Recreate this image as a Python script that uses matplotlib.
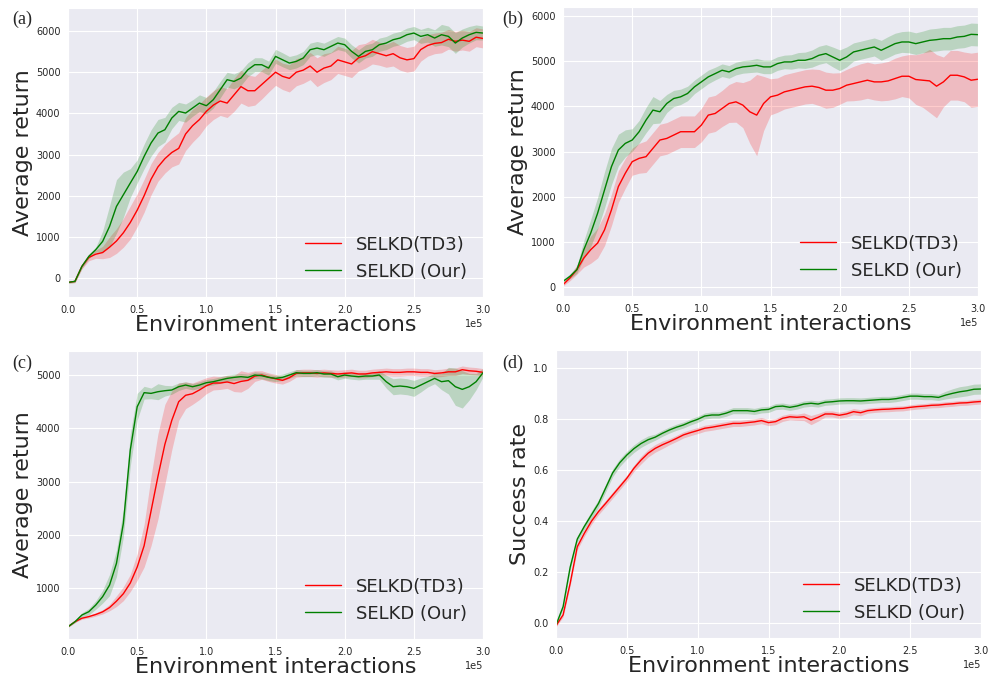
import numpy as np
import matplotlib.pyplot as plt
import seaborn as sns

# x positions: every 5000 interactions from 0 to 3e5
steps = np.arange(0, 300001, 5000)

# (a) average return
a_td3 = [-105, -80, 283, 500, 580, 620, 750, 900, 1100, 1350, 1650, 2000, 2400, 2700, 2900, 3050,
         3150, 3500, 3700, 3850, 4050, 4200, 4300, 4250, 4450, 4650, 4550, 4550, 4700, 4850, 5000,
         4900, 4850, 5000, 5050, 5150, 5000, 5100, 5150, 5300, 5250, 5200, 5350, 5400, 5500, 5450,
         5400, 5450, 5350, 5300, 5330, 5550, 5650, 5700, 5720, 5800, 5750, 5780, 5750, 5850, 5820]
a_td3_sd = [20, 30, 60, 80, 100, 150, 250, 300, 350, 400, 400, 400, 380, 350, 350, 350,
            380, 400, 400, 380, 350, 350, 350, 350, 400, 400, 380, 350, 350, 330, 320,
            320, 330, 330, 320, 330, 350, 350, 330, 330, 330, 330, 320, 300, 300, 280,
            280, 300, 300, 300, 300, 280, 260, 250, 250, 240, 240, 240, 240, 230, 230]
a_our = [-105, -80, 283, 526, 688, 890, 1255, 1740, 2024, 2308, 2590, 2955, 3280, 3522, 3603, 3887,
         4048, 4008, 4129, 4250, 4186, 4332, 4575, 4818, 4777, 4858, 5060, 5182, 5182, 5100, 5384,
         5303, 5222, 5263, 5344, 5546, 5587, 5546, 5627, 5708, 5668, 5506, 5384, 5506, 5546, 5668,
         5708, 5789, 5830, 5911, 5951, 5870, 5911, 5830, 5911, 5870, 5708, 5830, 5911, 5968, 5951]
a_our_sd = [20, 30, 50, 50, 60, 250, 500, 650, 550, 350, 280, 300, 320, 330, 300, 260,
            220, 220, 200, 200, 200, 200, 200, 180, 180, 180, 170, 170, 170, 170, 170,
            170, 160, 160, 160, 160, 160, 160, 160, 160, 160, 160, 160, 160, 160, 160,
            160, 160, 160, 160, 160, 170, 180, 200, 250, 250, 250, 220, 200, 180, 170]

# (b) average return
b_td3 = [50, 200, 383, 640, 825, 972, 1266, 1708, 2223, 2518, 2775, 2849, 2886, 3070, 3254, 3290,
         3364, 3438, 3438, 3438, 3585, 3806, 3843, 3953, 4064, 4100, 4027, 3880, 3806, 4064, 4211,
         4248, 4321, 4358, 4395, 4432, 4447, 4417, 4358, 4358, 4395, 4469, 4505, 4542, 4579, 4542,
         4542, 4564, 4616, 4667, 4667, 4594, 4579, 4564, 4447, 4542, 4689, 4689, 4653, 4579, 4601]
b_td3_sd = [30, 60, 100, 200, 300, 330, 350, 350, 350, 330, 300, 330, 350, 350, 350, 350,
            350, 350, 350, 350, 370, 400, 400, 400, 420, 450, 500, 700, 900, 600, 400,
            380, 380, 380, 380, 380, 380, 400, 400, 380, 350, 350, 380, 400, 400, 400,
            420, 430, 450, 450, 480, 550, 600, 700, 700, 550, 550, 550, 550, 600, 600]
b_our = [125, 235, 383, 825, 1193, 1634, 2150, 2665, 3033, 3180, 3254, 3438, 3696, 3917, 3880, 4064,
         4174, 4211, 4285, 4432, 4542, 4653, 4726, 4800, 4763, 4837, 4874, 4888, 4910, 4874, 4874,
         4947, 4984, 4984, 5021, 5021, 5058, 5131, 5168, 5094, 5021, 5094, 5205, 5242, 5279, 5315,
         5242, 5315, 5389, 5426, 5426, 5389, 5426, 5462, 5477, 5499, 5499, 5536, 5550, 5595, 5588]
b_our_sd = [30, 50, 80, 200, 300, 350, 400, 400, 350, 300, 250, 250, 280, 300, 250, 200,
            180, 170, 160, 150, 150, 150, 140, 140, 140, 140, 140, 140, 150, 150, 150,
            150, 150, 160, 170, 180, 190, 200, 200, 220, 230, 220, 200, 200, 200, 200,
            220, 230, 230, 230, 240, 240, 240, 250, 250, 250, 250, 250, 250, 250, 250]

# (c) average return
c_td3 = [281, 375, 440, 470, 510, 560, 640, 760, 900, 1100, 1400, 1800, 2450, 3100, 3700, 4150,
         4500, 4620, 4650, 4720, 4800, 4850, 4850, 4870, 4840, 4880, 4900, 4980, 5000, 4960, 4930,
         4900, 4950, 5030, 5040, 5040, 5030, 5040, 5030, 5020, 5030, 5040, 5020, 5020, 5040, 5050,
         5060, 5050, 5050, 5060, 5060, 5050, 5050, 5030, 5040, 5060, 5060, 5100, 5080, 5070, 5050]
c_td3_sd = [10, 15, 20, 25, 30, 40, 60, 100, 130, 160, 250, 400, 650, 800, 750, 550,
            350, 250, 200, 180, 150, 130, 120, 120, 150, 200, 150, 100, 80, 80, 80,
            70, 70, 70, 70, 70, 70, 70, 70, 70, 70, 70, 70, 70, 70, 70,
            70, 70, 70, 70, 70, 70, 70, 70, 70, 70, 70, 70, 70, 70, 70]
c_our = [281, 375, 500, 562, 687, 844, 1062, 1469, 2219, 3594, 4406, 4669, 4656, 4687, 4706, 4719,
         4781, 4812, 4781, 4812, 4856, 4875, 4906, 4937, 4956, 4969, 4956, 5000, 4987, 4956, 4937,
         4956, 5000, 5044, 5031, 5031, 5044, 5019, 5019, 4969, 5000, 4981, 4969, 4981, 4981, 5000,
         4875, 4781, 4794, 4781, 4750, 4812, 4875, 4937, 4875, 4894, 4781, 4731, 4781, 4875, 5044]
c_our_sd = [10, 20, 40, 60, 80, 120, 200, 250, 250, 300, 250, 120, 100, 150, 100, 80,
            70, 60, 60, 60, 60, 60, 60, 60, 60, 60, 60, 60, 60, 60, 60,
            60, 60, 60, 60, 60, 60, 60, 60, 60, 60, 60, 60, 60, 60, 80,
            120, 150, 150, 150, 150, 130, 100, 100, 150, 250, 350, 350, 250, 150, 80]

# (d) success rate
d_td3 = [-0.01, 0.033, 0.157, 0.30, 0.353, 0.40, 0.438, 0.47, 0.503, 0.536, 0.569, 0.608, 0.64,
         0.667, 0.686, 0.70, 0.712, 0.725, 0.739, 0.748, 0.756, 0.765, 0.769, 0.774, 0.779, 0.784,
         0.784, 0.787, 0.79, 0.795, 0.787, 0.791, 0.804, 0.81, 0.808, 0.81, 0.797, 0.808, 0.821,
         0.821, 0.816, 0.821, 0.83, 0.826, 0.834, 0.837, 0.839, 0.84, 0.842, 0.843, 0.847, 0.85,
         0.852, 0.855, 0.856, 0.859, 0.861, 0.864, 0.865, 0.868, 0.87]
d_td3_sd = [0.005, 0.008, 0.01, 0.012, 0.012, 0.012, 0.012, 0.012, 0.012, 0.012, 0.012, 0.012, 0.015,
            0.015, 0.015, 0.015, 0.012, 0.012, 0.012, 0.012, 0.012, 0.012, 0.012, 0.012, 0.012, 0.012,
            0.012, 0.012, 0.012, 0.012, 0.012, 0.012, 0.012, 0.012, 0.012, 0.015, 0.018, 0.015, 0.012,
            0.012, 0.012, 0.012, 0.012, 0.012, 0.01, 0.01, 0.01, 0.01, 0.01, 0.01, 0.01, 0.01,
            0.01, 0.01, 0.01, 0.01, 0.01, 0.01, 0.01, 0.01, 0.01]
d_our = [-0.007, 0.065, 0.22, 0.33, 0.38, 0.425, 0.47, 0.53, 0.59, 0.63, 0.66, 0.685, 0.705,
         0.72, 0.73, 0.745, 0.758, 0.769, 0.778, 0.79, 0.80, 0.813, 0.817, 0.817, 0.824, 0.834,
         0.834, 0.834, 0.831, 0.837, 0.839, 0.85, 0.852, 0.847, 0.852, 0.86, 0.863, 0.86, 0.867,
         0.869, 0.872, 0.873, 0.873, 0.872, 0.874, 0.876, 0.878, 0.878, 0.881, 0.886, 0.891, 0.891,
         0.889, 0.889, 0.886, 0.895, 0.902, 0.908, 0.912, 0.918, 0.919]
d_our_sd = [0.005, 0.008, 0.01, 0.012, 0.012, 0.015, 0.015, 0.015, 0.015, 0.015, 0.015, 0.015, 0.015,
            0.015, 0.012, 0.012, 0.012, 0.012, 0.012, 0.012, 0.012, 0.012, 0.012, 0.012, 0.012, 0.012,
            0.012, 0.012, 0.012, 0.012, 0.012, 0.012, 0.012, 0.012, 0.012, 0.012, 0.012, 0.012, 0.012,
            0.012, 0.012, 0.012, 0.012, 0.012, 0.012, 0.012, 0.012, 0.012, 0.012, 0.012, 0.012, 0.012,
            0.012, 0.012, 0.012, 0.015, 0.018, 0.02, 0.02, 0.02, 0.02]

panels = [
    ('(a)', a_td3, a_td3_sd, a_our, a_our_sd, 'Average return', (-460, 6560)),
    ('(b)', b_td3, b_td3_sd, b_our, b_our_sd, 'Average return', (-200, 6200)),
    ('(c)', c_td3, c_td3_sd, c_our, c_our_sd, 'Average return', (50, 5450)),
    ('(d)', d_td3, d_td3_sd, d_our, d_our_sd, 'Success rate', (-0.058, 1.072)),
]
# axes rectangles in figure fraction
rects = [[0.0688, 0.5645, 0.4196, 0.4238],
         [0.5693, 0.5660, 0.4196, 0.4237],
         [0.0688, 0.0630, 0.4196, 0.4223],
         [0.5622, 0.0645, 0.4297, 0.4223]]
tags = [(0.012, 0.965), (0.508, 0.965), (0.012, 0.46), (0.508, 0.46)]

sns.set_style('darkgrid')
plt.rcParams['font.family'] = ['DejaVu Sans']

fig = plt.figure(figsize=(9.89, 6.82), dpi=100)
for (tag, td3, td3_sd, our, our_sd, ylab, ylim), rect, pos in zip(panels, rects, tags):
    ax = fig.add_axes(rect)
    td3 = np.array(td3)
    our = np.array(our)
    ax.fill_between(steps, td3 - np.array(td3_sd), td3 + np.array(td3_sd), color='red', alpha=0.2, lw=0)
    ax.fill_between(steps, our - np.array(our_sd), our + np.array(our_sd), color='green', alpha=0.2, lw=0)
    ax.plot(steps, td3, color='red', lw=1, label='SELKD(TD3)')
    ax.plot(steps, our, color='green', lw=1, label='SELKD (Our)')
    ax.set_xlim(0, 300000)
    ax.set_xticks(np.arange(0, 300001, 50000))
    ax.ticklabel_format(axis='x', style='sci', scilimits=(0, 0))
    ax.set_ylim(*ylim)
    ax.tick_params(labelsize=7, pad=2)
    ax.xaxis.get_offset_text().set_fontsize(7)
    ax.set_xlabel('Environment interactions', fontsize=16, labelpad=0)
    ax.set_ylabel(ylab, fontsize=16, labelpad=2)
    ax.legend(loc='lower right', fontsize=13, frameon=False)
    fig.text(pos[0], pos[1], tag, fontsize=13, family='Liberation Serif')

fig.savefig('out.png', dpi=100)
